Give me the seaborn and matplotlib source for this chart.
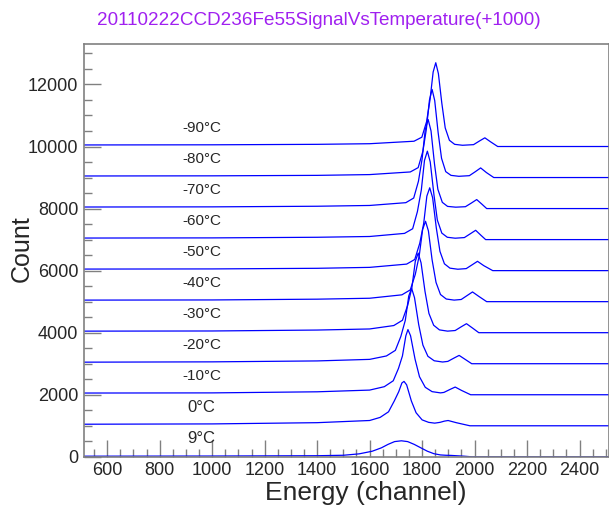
import numpy as np
import pandas as pd
import matplotlib
matplotlib.use("Agg")
import matplotlib.pyplot as plt
import seaborn as sns
from matplotlib.ticker import MultipleLocator

sns.set_style("ticks")
plt.rcParams["font.family"] = ["Liberation Sans", "DejaVu Sans"]

# temperatures, bottom curve first; each curve is shifted up by 1000
temps = ["9°C", "0°C", "-10°C", "-20°C", "-30°C", "-40°C",
         "-50°C", "-60°C", "-70°C", "-80°C", "-90°C"]
shift = 1000

# channel / counts for every spectrum
ch_9 = [510, 1000, 1400, 1500, 1560, 1610, 1645, 1670, 1695, 1721, 1745,
        1770, 1795, 1820, 1845, 1870, 1890, 1910, 1930, 1960, 1990, 2512]
cnt_9 = [20, 25, 35, 50, 95, 180, 290, 400, 490, 516, 490,
         400, 290, 180, 100, 60, 50, 45, 35, 20, 0, 0]

ch_0 = [510, 1000, 1400, 1600, 1640, 1672, 1694, 1711, 1723, 1731, 1741,
        1759, 1777, 1800, 1825, 1848, 1868, 1885, 1899, 1930, 1982, 2512]
cnt_0 = [50, 60, 100, 170, 270, 450, 800, 1100, 1380, 1430, 1320,
         800, 420, 190, 110, 85, 110, 150, 170, 100, 0, 0]

ch_m10 = [510, 1000, 1400, 1600, 1656, 1690, 1710, 1725, 1738, 1746, 1756,
          1773, 1790, 1812, 1838, 1870, 1883, 1906, 1926, 1950, 1985, 2512]
cnt_m10 = [55, 60, 95, 150, 260, 450, 850, 1250, 1900, 2100, 1900,
           1150, 580, 240, 100, 60, 75, 170, 248, 140, 0, 0]

ch_m20 = [510, 1000, 1400, 1600, 1664, 1698, 1719, 1736, 1749, 1760, 1771,
          1787, 1803, 1822, 1846, 1878, 1898, 1921, 1941, 1964, 1989, 2512]
cnt_m20 = [50, 60, 90, 140, 250, 430, 880, 1400, 2180, 2430, 2130,
           1260, 600, 240, 95, 55, 75, 180, 268, 140, 0, 0]

ch_m30 = [510, 1000, 1400, 1600, 1692, 1725, 1745, 1761, 1774, 1785, 1796,
          1811, 1826, 1844, 1866, 1897, 1926, 1949, 1969, 1992, 2016, 2512]
cnt_m30 = [50, 55, 85, 120, 230, 400, 880, 1450, 2300, 2565, 2250,
           1330, 620, 240, 90, 50, 70, 190, 290, 150, 0, 0]

ch_m40 = [510, 1000, 1400, 1600, 1723, 1755, 1774, 1789, 1802, 1813, 1824,
          1838, 1853, 1870, 1892, 1922, 1949, 1972, 1992, 2016, 2046, 2512]
cnt_m40 = [50, 55, 80, 110, 220, 380, 880, 1480, 2330, 2590, 2280,
           1350, 620, 230, 85, 50, 70, 200, 313, 170, 0, 0]

ch_m50 = [510, 1000, 1400, 1600, 1741, 1772, 1791, 1806, 1818, 1829, 1840,
          1854, 1868, 1885, 1906, 1936, 1968, 1991, 2011, 2035, 2069, 2512]
cnt_m50 = [50, 55, 75, 105, 210, 360, 880, 1520, 2400, 2670, 2350,
           1380, 620, 220, 80, 45, 65, 190, 300, 160, 0, 0]

ch_m60 = [510, 1000, 1400, 1600, 1733, 1764, 1782, 1797, 1809, 1820, 1831,
          1845, 1858, 1875, 1896, 1926, 1961, 1984, 2004, 2024, 2042, 2512]
cnt_m60 = [50, 55, 75, 100, 200, 350, 900, 1600, 2550, 2850, 2500,
           1450, 630, 210, 75, 45, 65, 190, 300, 140, 0, 0]

ch_m70 = [510, 1000, 1400, 1600, 1738, 1768, 1786, 1800, 1812, 1823, 1834,
          1847, 1860, 1877, 1897, 1928, 1965, 1988, 2008, 2028, 2046, 2512]
cnt_m70 = [50, 55, 75, 100, 190, 340, 880, 1600, 2550, 2870, 2500,
           1450, 620, 200, 70, 45, 60, 180, 290, 140, 0, 0]

ch_m80 = [510, 1000, 1400, 1600, 1755, 1785, 1803, 1816, 1828, 1838, 1848,
          1861, 1874, 1890, 1910, 1940, 1980, 2003, 2023, 2045, 2073, 2512]
cnt_m80 = [50, 55, 70, 95, 180, 320, 850, 1550, 2500, 2840, 2480,
           1450, 620, 190, 70, 40, 60, 190, 310, 160, 0, 0]

ch_m90 = [510, 1000, 1400, 1600, 1769, 1799, 1817, 1830, 1842, 1852, 1862,
          1875, 1888, 1904, 1924, 1954, 1996, 2019, 2039, 2061, 2088, 2512]
cnt_m90 = [50, 55, 70, 90, 170, 300, 800, 1500, 2400, 2700, 2350,
           1400, 600, 200, 70, 40, 60, 180, 280, 150, 0, 0]

channels = [ch_9, ch_0, ch_m10, ch_m20, ch_m30, ch_m40,
            ch_m50, ch_m60, ch_m70, ch_m80, ch_m90]
counts = [cnt_9, cnt_0, cnt_m10, cnt_m20, cnt_m30, cnt_m40,
          cnt_m50, cnt_m60, cnt_m70, cnt_m80, cnt_m90]

rows = []
for i, (t, xs, ys) in enumerate(zip(temps, channels, counts)):
    for x, y in zip(xs, ys):
        rows.append({"temp": t, "channel": x, "signal": y + i * shift})
df = pd.DataFrame(rows)

fig = plt.figure(figsize=(6.09, 5.07), dpi=100)
ax = fig.add_axes([0.138, 0.099, 0.862, 0.814])

sns.lineplot(data=df, x="channel", y="signal", hue="temp", units="temp",
             estimator=None, sort=False, palette=["#0000ff"] * len(temps),
             hue_order=temps, legend=False, linewidth=0.9, ax=ax)

ax.set_xlim(512, 2512)
ax.set_ylim(0, 13300)

# temperature labels above each baseline
for i, t in enumerate(temps):
    size = 12 if i < 2 else 11
    ax.text(960, i * shift + 590, t, ha="center", va="center", fontsize=size)

ax.xaxis.set_major_locator(MultipleLocator(200))
ax.xaxis.set_minor_locator(MultipleLocator(50))
ax.yaxis.set_major_locator(MultipleLocator(2000))
ax.yaxis.set_minor_locator(MultipleLocator(500))
ax.tick_params(axis="both", which="major", direction="in", length=12,
               width=1, color="#808080", labelsize=13, pad=4)
ax.tick_params(axis="both", which="minor", direction="in", length=6,
               width=1, color="#808080")
ax.tick_params(axis="x", which="both", top=False)
ax.tick_params(axis="y", which="both", right=False)

for s in ax.spines.values():
    s.set_color("#808080")
    s.set_linewidth(1.2)

ax.set_xlabel("")
ax.set_ylabel("")
fig.text(0.523, 0.96, "20110222CCD236Fe55SignalVsTemperature(+1000)",
         ha="center", va="center", fontsize=13.6, color="#a020f0")
fig.text(0.035, 0.51, "Count", rotation=90, ha="center", va="center", fontsize=18)
fig.text(0.60, 0.003, "Energy (channel)", ha="center", va="bottom", fontsize=19)

fig.savefig("out.png", dpi=100)
